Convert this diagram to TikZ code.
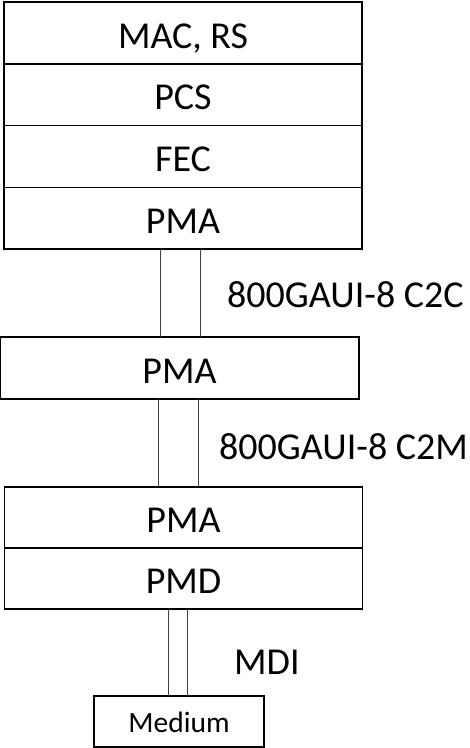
\documentclass[tikz,border=0pt]{standalone}
\usepackage{fontspec}
\setmainfont{Carlito}
\usetikzlibrary{positioning}

\begin{document}
\begin{tikzpicture}[x=1pt, y=1pt,
  layer/.style={draw, line width=1.5pt, minimum width=358pt, minimum height=61.75pt,
    inner sep=0pt, outer sep=0pt, text height=30.5pt, text depth=0pt,
    font=\fontsize{38}{44}\selectfont},
  link/.style={draw=black!75, line width=1pt},
  tag/.style={anchor=west, inner sep=0pt, font=\fontsize{38}{44}\selectfont}]
  \useasboundingbox (0,0) rectangle (470,-748);

  % Host stack
  \node[layer] (mac) at (183,-32.9) {MAC, RS};
  \node[layer, below=0pt of mac] (pcs) {PCS};
  \node[layer, below=0pt of pcs] (fec) {FEC};
  \node[layer, below=0pt of fec] (pmaA) {PMA};

  % Retimer
  \node[layer, minimum width=359pt, minimum height=62pt] (pmaB) at (179.5,-368) {PMA};

  % Module stack
  \node[layer, minimum height=61pt] (pmaC) at (183.5,-517.5) {PMA};
  \node[layer, minimum height=61pt, below=0pt of pmaC] (pmd) {PMD};

  % Medium
  \node[layer, minimum width=170pt, minimum height=51pt, text height=22pt,
    font=\fontsize{29.5}{34}\selectfont] (medium) at (179,-721.5) {Medium};

  % Links
  \draw[link] ([xshift=-23pt]pmaA.south) -- ([xshift=-23pt]pmaA.south |- pmaB.north);
  \draw[link] ([xshift=17pt]pmaA.south) -- ([xshift=17pt]pmaA.south |- pmaB.north);
  \draw[link] ([xshift=-21.5pt]pmaB.south) -- ([xshift=-21.5pt]pmaB.south |- pmaC.north);
  \draw[link] ([xshift=18.5pt]pmaB.south) -- ([xshift=18.5pt]pmaB.south |- pmaC.north);
  \draw[link] ([xshift=-11pt]medium.north) -- ([xshift=-11pt]medium.north |- pmd.south);
  \draw[link] ([xshift=8pt]medium.north) -- ([xshift=8pt]medium.north |- pmd.south);

  % Interface labels
  \node[tag] (c2c) at (227,-295) {800GAUI-8 C2C};
  \node[tag] (c2m) at (219,-447) {800GAUI-8 C2M};
  \node[tag] (mdi) at (234,-662) {MDI};
\end{tikzpicture}
\end{document}
